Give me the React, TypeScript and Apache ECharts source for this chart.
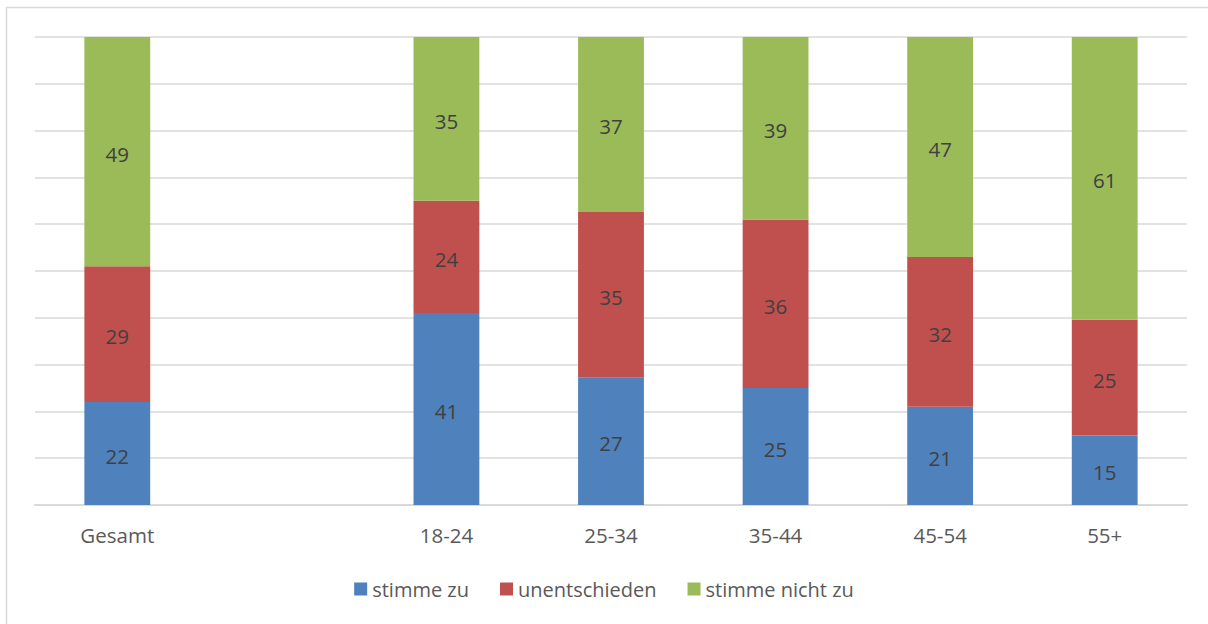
import React, { useEffect, useRef } from "react";
import * as echarts from "echarts";

const categories = ["Gesamt", "", "18-24", "25-34", "35-44", "45-54", "55+"];
const stimmeZu: (number | null)[] = [22, null, 41, 27, 25, 21, 15];
const unentschieden: (number | null)[] = [29, null, 24, 35, 36, 32, 25];
const stimmeNichtZu: (number | null)[] = [49, null, 35, 37, 39, 47, 61];
const seriesNames = ["stimme zu", "unentschieden", "stimme nicht zu"];
const colors = ["#4f81bd", "#c0504d", "#9bbb59"];

export default function App() {
  const ref = useRef<HTMLDivElement>(null);
  useEffect(() => {
    if (!ref.current) return;
    const chart = echarts.init(ref.current, null, { renderer: "svg" });
    const raw = [stimmeZu, unentschieden, stimmeNichtZu];
    const totals = categories.map((_, i) =>
      raw.reduce((s, arr) => s + (arr[i] ?? 0), 0)
    );
    const font = "Open Sans, sans-serif";
    chart.setOption({
      animation: false,
      graphic: [
        {
          type: "rect",
          shape: { x: 6.5, y: 7.5, width: 1300, height: 700 },
          style: { fill: "none", stroke: "#d9d9d9", lineWidth: 1.5 },
          silent: true,
        },
      ],
      grid: { left: 35, right: 21, top: 37, bottom: 119, containLabel: false },
      legend: {
        top: 574,
        left: "center",
        itemWidth: 13,
        itemHeight: 13,
        itemGap: 31,
        icon: "rect",
        textStyle: { color: "#595959", fontSize: 20, fontFamily: font },
        data: seriesNames,
      },
      xAxis: {
        type: "category",
        data: categories,
        axisLine: { lineStyle: { color: "#d9d9d9", width: 2 } },
        axisTick: { show: false },
        axisLabel: { color: "#595959", fontSize: 20.5, fontFamily: font, margin: 19 },
      },
      yAxis: {
        type: "value",
        min: 0,
        max: 100,
        interval: 10,
        axisLabel: { show: false },
        axisLine: { show: false },
        axisTick: { show: false },
        splitLine: { lineStyle: { color: "#d9d9d9", width: 1.5 } },
      },
      series: raw.map((arr, si) => ({
        name: seriesNames[si],
        type: "bar",
        stack: "total",
        barWidth: "40%",
        itemStyle: { color: colors[si] },
        label: {
          show: true,
          position: "inside",
          color: "#404040",
          fontSize: 20.5,
          fontFamily: font,
          offset: [0, 2],
          formatter: (p: any) => (arr[p.dataIndex] == null ? "" : String(arr[p.dataIndex])),
        },
        data: arr.map((v, i) => (v == null ? null : (v / totals[i]) * 100)),
      })),
    });
    return () => chart.dispose();
  }, []);
  return (
    <div
      ref={ref}
      style={{ position: "fixed", left: 0, top: 0, width: 1208, height: 624, background: "#fff" }}
    />
  );
}
